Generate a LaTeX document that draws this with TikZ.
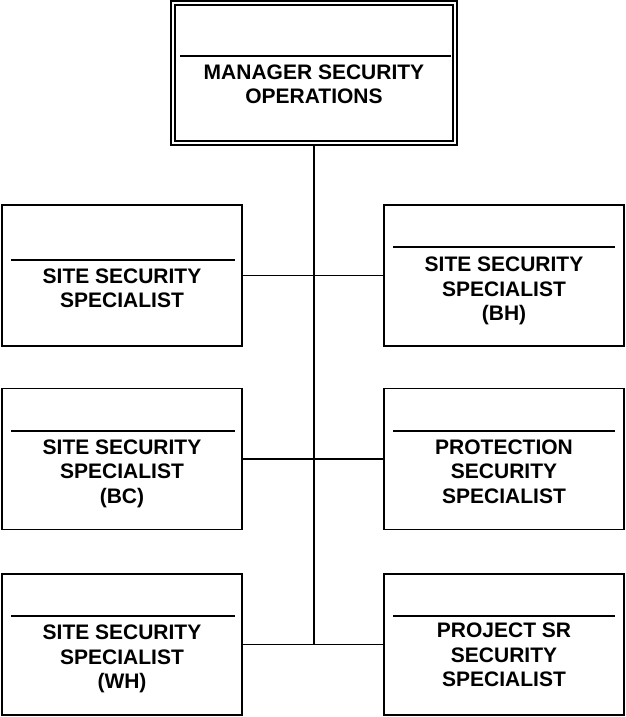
\documentclass[tikz,border=0pt]{standalone}
\usepackage{fontspec}
\setmainfont{Liberation Sans}
\usetikzlibrary{positioning}

\begin{document}
\begin{tikzpicture}[x=1pt, y=-1pt, line width=1.8pt,
	box_node/.style={rectangle,draw,minimum width=240pt,minimum height=141pt,inner sep=0pt},
	title_node/.style={align=center,inner sep=0pt,font=\fontsize{21}{24.5}\selectfont\bfseries}]
				
				\useasboundingbox (0,0) rectangle (625,717);
				
				% manager
				\node[box_node, double, double distance=2.2pt, minimum width=282pt, minimum height=140pt] (mgr) at (314,73) {};
				\draw ([shift={(8,54)}]mgr.north west) -- ([shift={(-5,54)}]mgr.north east);
				\node[title_node] (mgrt) at ([shift={(0,82)}]mgr.north) {MANAGER SECURITY\\OPERATIONS};
				
				% left column
				\node[box_node] (l1) at (122,275.5) {};
				\node[box_node] (l2) at (122,459) {};
				\node[box_node] (l3) at (122,644.5) {};
				% right column
				\node[box_node] (r1) at (504,275.5) {};
				\node[box_node] (r2) at (504,459) {};
				\node[box_node] (r3) at (504,644.5) {};
				
				% rules
				\draw ([shift={(10,56)}]l1.north west) -- ([shift={(-8,56)}]l1.north east);
				\draw ([shift={(10,43)}]l2.north west) -- ([shift={(-8,43)}]l2.north east);
				\draw ([shift={(10,43)}]l3.north west) -- ([shift={(-8,43)}]l3.north east);
				\draw ([shift={(10,43)}]r1.north west) -- ([shift={(-10,43)}]r1.north east);
				\draw ([shift={(10,43)}]r2.north west) -- ([shift={(-10,43)}]r2.north east);
				\draw ([shift={(10,43)}]r3.north west) -- ([shift={(-10,43)}]r3.north east);
				
				% titles
				\node[title_node] (l1t) at ([shift={(0,84)}]l1.north) {SITE SECURITY\\SPECIALIST};
				\node[title_node] (l2t) at ([shift={(0,86)}]l2.north) {SITE SECURITY\\SPECIALIST\\(BC)};
				\node[title_node] (l3t) at ([shift={(0,86)}]l3.north) {SITE SECURITY\\SPECIALIST\\(WH)};
				\node[title_node] (r1t) at ([shift={(0,87)}]r1.north) {SITE SECURITY\\SPECIALIST\\(BH)};
				\node[title_node] (r2t) at ([shift={(0,84)}]r2.north) {PROTECTION\\SECURITY\\SPECIALIST};
				\node[title_node] (r3t) at ([shift={(0,82)}]r3.north) {PROJECT SR\\SECURITY\\SPECIALIST};
				
				% connectors
				\coordinate (trunk) at (l3.east -| mgr.south);
				\draw (mgr.south) -- (trunk);
				\draw (l1.east) -- (l1.east -| mgr.south);
				\draw (l2.east) -- (l2.east -| mgr.south);
				\draw (l3.east) -- (trunk);
				\draw (r1.west) -- (r1.west -| mgr.south);
				\draw (r2.west) -- (r2.west -| mgr.south);
				\draw (r3.west) -- (trunk);
			\end{tikzpicture}
\end{document}
